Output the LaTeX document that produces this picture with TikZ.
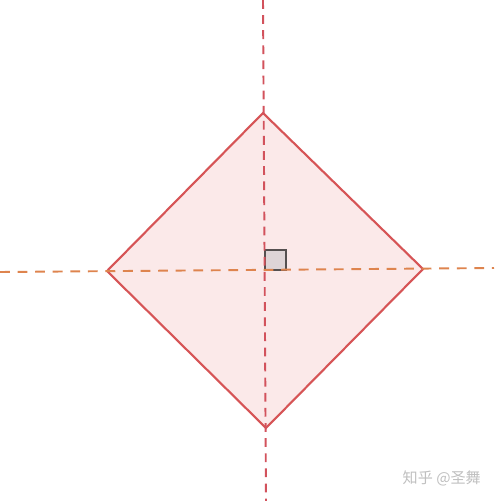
\documentclass[tikz,border=0pt]{standalone}
\usepackage{fontspec}
\newfontfamily\cjk{Noto Sans CJK SC}
\usepackage{tikz}
\usetikzlibrary{positioning}
\definecolor{edgered}{RGB}{214,84,86}
\definecolor{fillpink}{RGB}{251,233,233}
\definecolor{axisred}{RGB}{210,82,92}
\definecolor{axisorange}{RGB}{222,132,78}
\definecolor{markfill}{RGB}{222,212,214}
\definecolor{markdraw}{RGB}{85,80,80}

\begin{document}
\begin{tikzpicture}[x=0.02cm, y=-0.02cm]
		\tikzstyle{axis}=[line width=1.1pt]
		\tikzstyle{square}=[draw=edgered, fill=fillpink, line width=1.2pt, line join=miter]
		\tikzstyle{rightangle}=[draw=markdraw, fill=markfill, line width=0.9pt]
		\useasboundingbox (0,0) rectangle (496,501);
		% corners of the square
		\coordinate (top) at (263,113);
		\coordinate (left) at (107,271);
		\coordinate (bottom) at (266,428);
		\coordinate (right) at (423,269);
		% ends of the two diagonals
		\coordinate (vtop) at (263,0);
		\coordinate (vbot) at (266,501);
		\coordinate (hleft) at (0,272);
		\coordinate (hright) at (494,268);
		\coordinate (o) at (265,270);
		\path[square] (top) -- (right) -- (bottom) -- (left) -- cycle;
		\draw[rightangle] (o) rectangle ++(21,-20);
		\draw[axis, axisred, dash pattern=on 5pt off 3.6pt] (vtop) -- (vbot);
		\draw[axis, axisorange, dash pattern=on 5.6pt off 4.4pt] (hleft) -- (hright);
		\node[text=black!25, font=\cjk\fontsize{8.6}{8.6}\selectfont, anchor=east] (mark) at (487,478) {知乎 @圣舞};
	\end{tikzpicture}
\end{document}
